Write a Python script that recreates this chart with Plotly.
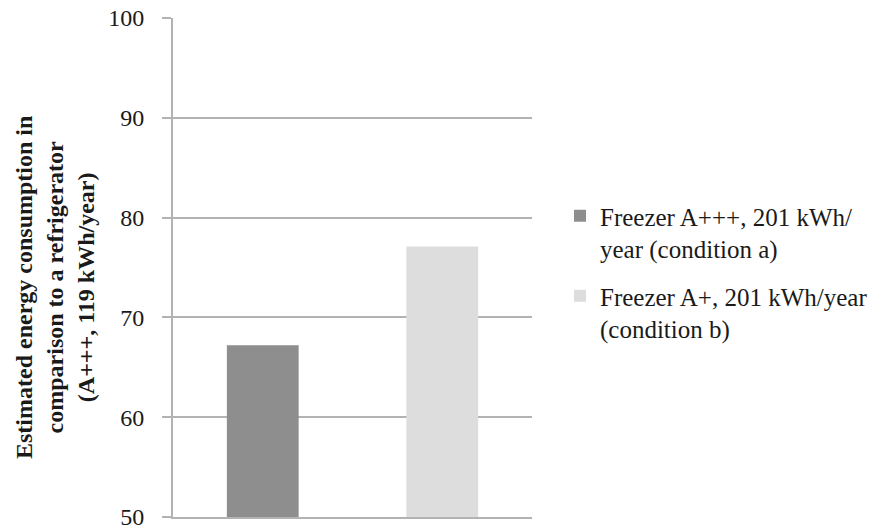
import plotly.graph_objects as go

# Estimated consumption values for each freezer scenario
series_names = [
    "Freezer A+++, 201 kWh/<br>year (condition a)",
    "Freezer A+, 201 kWh/year<br>(condition b)",
]
categories = ["a", "b"]
values = [67.2, 77.1]
colors = ["#8e8e8e", "#dddddd"]
y_ticks = [50, 60, 70, 80, 90, 100]
y_title = "Estimated energy consumption in<br>comparison to a refrigerator<br>(A+++, 119 kWh/year)"

font_family = "Liberation Serif, Times New Roman, serif"
text_color = "#1a1a1a"
grid_color = "#b3b3b3"
legend_ids = ["legend", "legend2"]
legend_tops = [193, 273]  # px from top of the figure

fig = go.Figure()
for name, cat, val, col, lg in zip(series_names, categories, values, colors, legend_ids):
    fig.add_trace(go.Bar(
        x=[cat], y=[val], name=name,
        marker=dict(color=col, line=dict(width=0)),
        width=0.4, legend=lg,
    ))

legend_style = dict(
    xref="container", yref="container",
    x=560 / 886,
    xanchor="left", yanchor="top",
    valign="top",
    font=dict(family=font_family, size=25, color=text_color),
    itemwidth=30,
    bgcolor="rgba(0,0,0,0)",
)

fig.update_layout(
    template="none",
    width=886, height=530,
    margin=dict(l=173, r=354, t=18, b=13, autoexpand=False),
    paper_bgcolor="white", plot_bgcolor="white",
    font=dict(family=font_family, size=25, color=text_color),
    barmode="overlay",
    showlegend=True,
    legend=dict(legend_style, y=1 - legend_tops[0] / 530),
    legend2=dict(legend_style, y=1 - legend_tops[1] / 530),
    annotations=[dict(
        text="<b>" + y_title + "</b>",
        xref="paper", yref="paper",
        x=(55 - 173) / 359, y=(517 - 288) / 499,
        xanchor="center", yanchor="middle",
        textangle=-90, showarrow=False,
        font=dict(family=font_family, size=24, color=text_color),
    )],
)

fig.update_xaxes(
    categoryorder="array", categoryarray=categories,
    range=[-0.5, 1.5], automargin=False,
    showticklabels=False, ticks="",
    showgrid=False, zeroline=False,
    showline=True, linecolor=grid_color, linewidth=2,
)

fig.update_yaxes(
    range=[50, 100], automargin=False,
    tickvals=y_ticks,
    ticks="outside", ticklen=9, tickcolor=grid_color, tickwidth=2,
    ticklabelstandoff=13, ticklabeloverflow="allow",
    showgrid=True, gridcolor=grid_color, gridwidth=2,
    showline=True, linecolor=grid_color, linewidth=2,
    zeroline=False,
    tickfont=dict(family=font_family, size=24, color=text_color),
)

fig.write_html("out.html")
